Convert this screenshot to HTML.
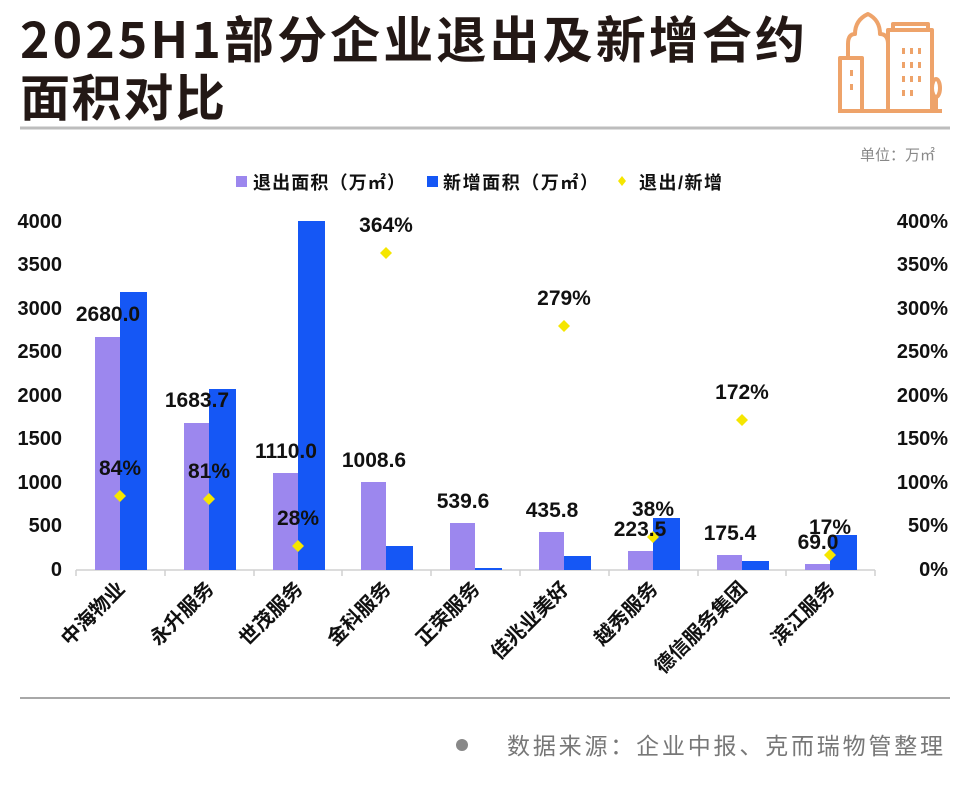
<!DOCTYPE html>
<html><head><meta charset="utf-8"><style>
html,body{margin:0;padding:0;background:#fff;}
svg{display:block;font-family:"Liberation Sans","Noto Sans CJK SC",sans-serif;}
</style></head><body>
<svg width="960" height="792" viewBox="0 0 960 792" xmlns="http://www.w3.org/2000/svg">
<rect width="960" height="792" fill="#fff"/>
<text x="20" y="58" font-size="50" font-weight="bold" fill="#231815" font-family="'Noto Sans CJK SC',sans-serif" textLength="785" lengthAdjust="spacing">2025H1部分企业退出及新增合约</text>
<text x="20" y="116" font-size="50" font-weight="bold" fill="#231815" font-family="'Noto Sans CJK SC',sans-serif" textLength="205" lengthAdjust="spacing">面积对比</text>
<line x1="20" y1="128" x2="950" y2="128" stroke="#bdbdbd" stroke-width="3"/>
<!-- icon -->
<g fill="none" stroke="#eea36a" stroke-width="4" stroke-linejoin="round">
<line x1="838" y1="111" x2="942" y2="111"/>
<path d="M840 109 V58 H862 V109"/>
<path d="M848 58 V44 Q848 34 855 34 Q855 20 868 14 Q880 20 880 34 Q888 34 888 44 V109"/>
<path d="M888 109 V30 H932 V109"/>
<path d="M893 30 V24 H928 V30"/>
<ellipse cx="936" cy="88" rx="4" ry="9"/>
<line x1="936" y1="97" x2="936" y2="109"/>
</g>
<g fill="#eea36a">
<rect x="850" y="70" width="3" height="6"/><rect x="850" y="84" width="3" height="6"/>
<rect x="902" y="48" width="3" height="6"/><rect x="910" y="48" width="3" height="6"/><rect x="918" y="48" width="3" height="6"/>
<rect x="902" y="62" width="3" height="6"/><rect x="910" y="62" width="3" height="6"/><rect x="918" y="62" width="3" height="6"/>
<rect x="902" y="76" width="3" height="6"/><rect x="910" y="76" width="3" height="6"/><rect x="918" y="76" width="3" height="6"/>
<rect x="902" y="90" width="3" height="6"/><rect x="910" y="90" width="3" height="6"/>
</g>
<text x="935" y="160" font-size="15" fill="#888" text-anchor="end">单位：万㎡</text>
<!-- legend -->
<rect x="236" y="176" width="11" height="11" fill="#9c87ee"/>
<text x="253" y="189" font-size="18" font-weight="bold" fill="#111" textLength="152" lengthAdjust="spacing">退出面积（万㎡）</text>
<rect x="427" y="176" width="11" height="11" fill="#1557f5"/>
<text x="443" y="189" font-size="18" font-weight="bold" fill="#111" textLength="155" lengthAdjust="spacing">新增面积（万㎡）</text>
<path d="M622 176 L626 181 L622 186 L618 181 Z" fill="#f5e600"/>
<text x="639" y="189" font-size="18" font-weight="bold" fill="#111" textLength="83" lengthAdjust="spacing">退出/新增</text>
<!-- axes labels -->
<g font-size="20" font-weight="bold" fill="#111" text-anchor="end">
<text x="62" y="228">4000</text><text x="62" y="271">3500</text><text x="62" y="315">3000</text>
<text x="62" y="358">2500</text><text x="62" y="402">2000</text><text x="62" y="445">1500</text>
<text x="62" y="489">1000</text><text x="62" y="532">500</text><text x="62" y="576">0</text>
</g>
<g font-size="20" font-weight="bold" fill="#111" text-anchor="end">
<text x="948" y="228">400%</text><text x="948" y="271">350%</text><text x="948" y="315">300%</text>
<text x="948" y="358">250%</text><text x="948" y="402">200%</text><text x="948" y="445">150%</text>
<text x="948" y="489">100%</text><text x="948" y="532">50%</text><text x="948" y="576">0%</text>
</g>
<line x1="76" y1="570" x2="875" y2="570" stroke="#d0d0d0" stroke-width="1.5"/>
<g stroke="#d0d0d0" stroke-width="1.5">
<line x1="76" y1="570" x2="76" y2="576"/><line x1="165" y1="570" x2="165" y2="576"/><line x1="254" y1="570" x2="254" y2="576"/>
<line x1="342" y1="570" x2="342" y2="576"/><line x1="431" y1="570" x2="431" y2="576"/><line x1="520" y1="570" x2="520" y2="576"/>
<line x1="609" y1="570" x2="609" y2="576"/><line x1="698" y1="570" x2="698" y2="576"/><line x1="786" y1="570" x2="786" y2="576"/>
<line x1="875" y1="570" x2="875" y2="576"/>
</g>
<g fill="#9c87ee">
<rect x="95" y="337" width="25" height="233"/>
<rect x="184" y="423" width="25" height="147"/>
<rect x="273" y="473" width="25" height="97"/>
<rect x="361" y="482" width="25" height="88"/>
<rect x="450" y="523" width="25" height="47"/>
<rect x="539" y="532" width="25" height="38"/>
<rect x="628" y="551" width="25" height="19"/>
<rect x="717" y="555" width="25" height="15"/>
<rect x="805" y="564" width="25" height="6"/>
</g>
<g fill="#1557f5">
<rect x="120" y="292" width="27" height="278"/>
<rect x="209" y="389" width="27" height="181"/>
<rect x="298" y="221" width="27" height="349"/>
<rect x="386" y="546" width="27" height="24"/>
<rect x="475" y="568" width="27" height="2"/>
<rect x="564" y="556" width="27" height="14"/>
<rect x="653" y="518" width="27" height="52"/>
<rect x="742" y="561" width="27" height="9"/>
<rect x="830" y="535" width="27" height="35"/>
</g>
<g fill="#f5e600">
<path d="M120 490 L126 496 L120 502 L114 496Z"/>
<path d="M209 493 L215 499 L209 505 L203 499Z"/>
<path d="M298 540 L304 546 L298 552 L292 546Z"/>
<path d="M386 247 L392 253 L386 259 L380 253Z"/>
<path d="M564 320 L570 326 L564 332 L558 326Z"/>
<path d="M653 531 L659 537 L653 543 L647 537Z"/>
<path d="M742 414 L748 420 L742 426 L736 420Z"/>
<path d="M830 549 L836 555 L830 561 L824 555Z"/>
</g>
<g font-size="21" font-weight="bold" fill="#111" text-anchor="middle">
<text x="108" y="321">2680.0</text>
<text x="197" y="407">1683.7</text>
<text x="286" y="458">1110.0</text>
<text x="374" y="467">1008.6</text>
<text x="463" y="508">539.6</text>
<text x="552" y="517">435.8</text>
<text x="640" y="536">223.5</text>
<text x="730" y="540">175.4</text>
<text x="818" y="549">69.0</text>
<text x="120" y="475">84%</text>
<text x="209" y="478">81%</text>
<text x="298" y="525">28%</text>
<text x="386" y="232">364%</text>
<text x="564" y="305">279%</text>
<text x="653" y="516">38%</text>
<text x="742" y="399">172%</text>
<text x="830" y="534">17%</text>
</g>
<g font-size="20" font-weight="bold" fill="#111" text-anchor="end">
<text transform="translate(126,590) rotate(-45)">中海物业</text>
<text transform="translate(215,590) rotate(-45)">永升服务</text>
<text transform="translate(304,590) rotate(-45)">世茂服务</text>
<text transform="translate(392,590) rotate(-45)">金科服务</text>
<text transform="translate(481,590) rotate(-45)">正荣服务</text>
<text transform="translate(570,590) rotate(-45)">佳兆业美好</text>
<text transform="translate(659,590) rotate(-45)">越秀服务</text>
<text transform="translate(748,590) rotate(-45)">德信服务集团</text>
<text transform="translate(836,590) rotate(-45)">滨江服务</text>
</g>
<line x1="20" y1="698" x2="950" y2="698" stroke="#a8a8a8" stroke-width="2"/>
<circle cx="462" cy="745" r="6" fill="#888"/>
<text x="507" y="754" font-size="23" fill="#777" textLength="436" lengthAdjust="spacing">数据来源：企业中报、克而瑞物管整理</text>
</svg>
</body></html>
